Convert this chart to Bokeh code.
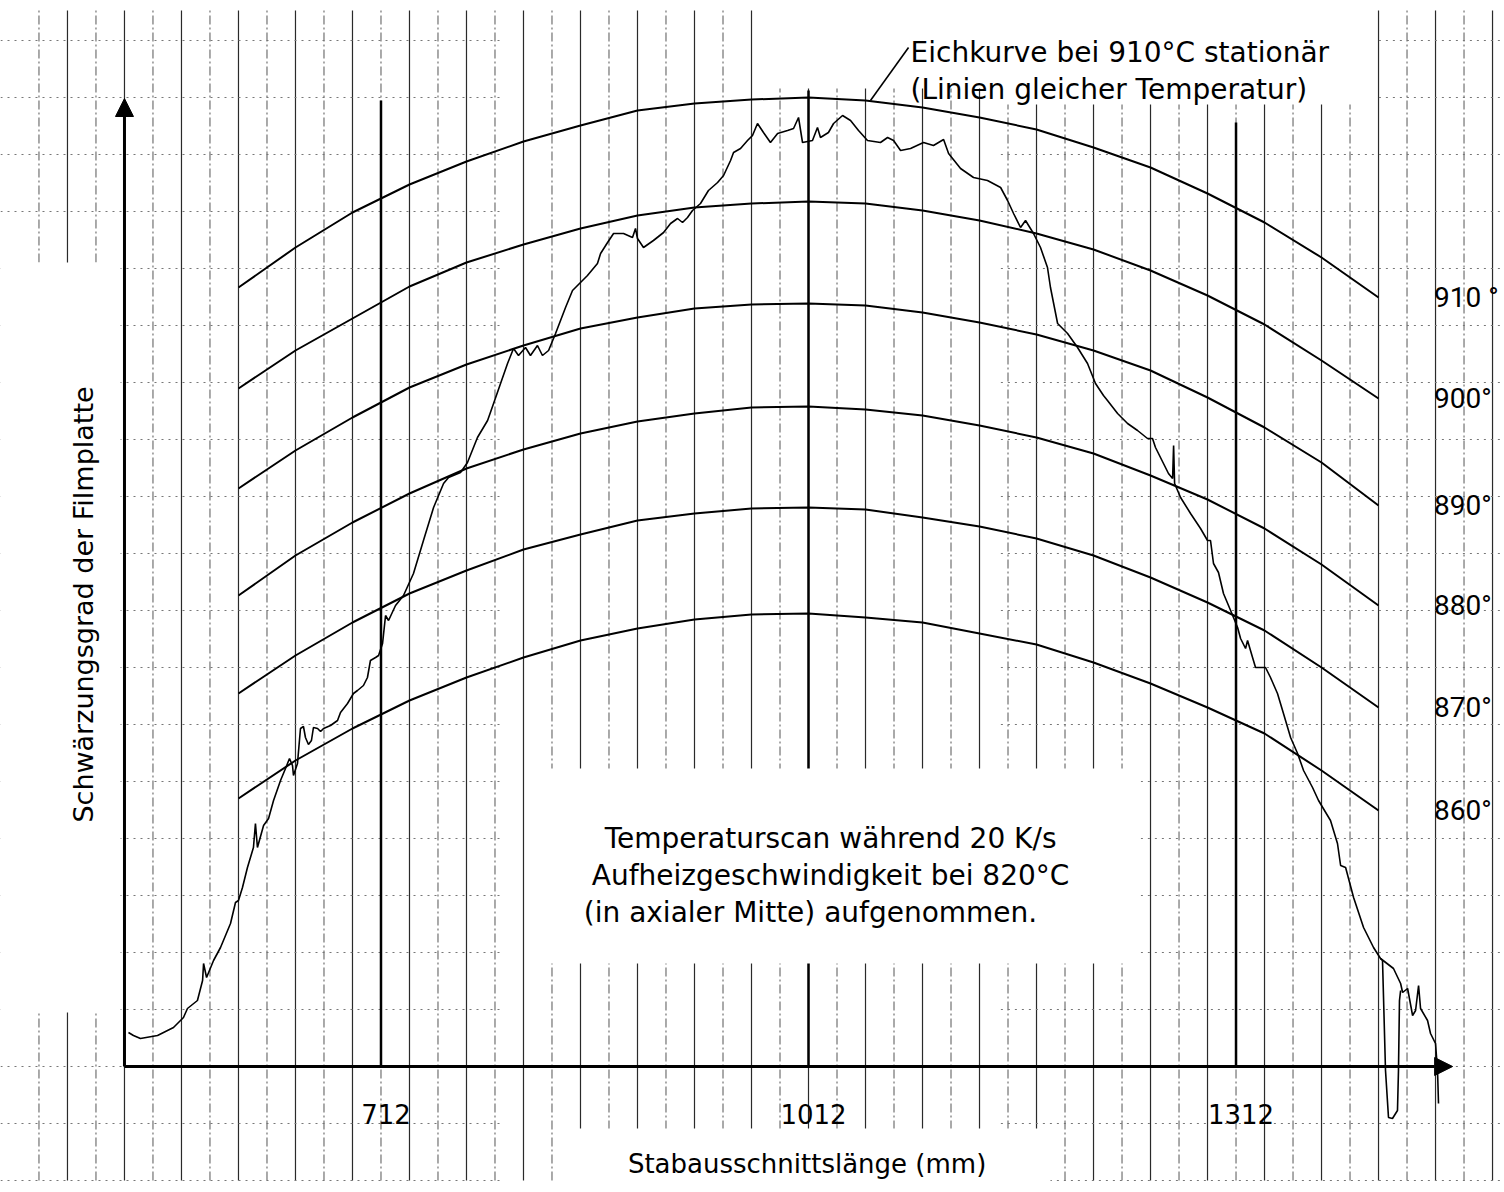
import numpy as np
from bokeh.plotting import figure
from bokeh.models import Range1d, Arrow, NormalHead
from bokeh.core.properties import value
from bokeh.embed import file_html
from bokeh.resources import INLINE

# ---------------- data ----------------
# Temperaturscan: Schwärzungsgrad (arb. units) vs. Stabausschnittslänge (mm)
scan_mm = [534.8, 538.3, 543.2, 555.2, 566.4, 573.4, 576.2, 583.2, 586.8, 587.5,
           589.6, 594.5, 599.4, 606.4, 609.9, 612.0, 614.8, 618.3, 622.5, 623.9,
           625.3, 629.6, 633.1, 636.6, 641.5, 645.0, 647.8, 649.9, 650.6, 653.4,
           655.5, 657.6, 659.0, 661.1, 663.2, 664.6, 667.5, 669.6, 671.7, 676.6,
           681.5, 683.6, 688.5, 692.7, 695.5, 699.7, 702.5, 704.6, 708.2, 710.3,
           713.1, 715.2, 717.3, 722.2, 727.8, 734.8, 741.8, 748.9, 755.9, 759.4,
           767.8, 772.7, 779.7, 786.8, 791.0, 795.9, 800.8, 805.0, 808.5, 813.4,
           816.9, 821.8, 825.3, 829.6, 834.5, 841.5, 846.4, 852.0, 856.9, 863.9,
           866.1, 871.0, 875.2, 882.2, 888.5, 890.6, 892.0, 896.2, 903.2, 910.3,
           915.2, 920.1, 923.6, 927.1, 930.6, 936.2, 941.8, 948.2, 952.4, 957.3,
           959.4, 964.3, 969.2, 972.7, 976.2, 980.4, 985.3, 990.3, 997.3, 1001.5,
           1005.0, 1007.8, 1014.8, 1018.3, 1020.4, 1026.0, 1029.6, 1035.9, 1041.5, 1047.1,
           1053.4, 1062.5, 1067.5, 1071.7, 1076.6, 1083.6, 1092.7, 1099.7, 1106.8, 1110.3,
           1118.7, 1127.8, 1137.6, 1146.8, 1151.7, 1155.9, 1160.8, 1164.3, 1169.9, 1174.8,
           1179.7, 1181.8, 1186.8, 1193.8, 1200.8, 1207.8, 1213.4, 1219.0, 1221.8, 1228.9,
           1235.9, 1242.9, 1249.9, 1253.4, 1255.5, 1261.1, 1264.6, 1267.5, 1268.2, 1268.9,
           1273.1, 1280.1, 1287.1, 1292.0, 1294.1, 1296.2, 1299.7, 1303.2, 1308.2, 1313.1,
           1315.2, 1318.7, 1320.1, 1323.6, 1325.7, 1332.7, 1336.2, 1341.1, 1345.3, 1350.3,
           1355.2, 1359.4, 1365.7, 1369.9, 1378.3, 1383.2, 1385.4, 1388.9, 1394.5, 1401.5,
           1408.5, 1413.4, 1422.5, 1427.5, 1428.9, 1432.4, 1435.9, 1438.0, 1440.1, 1441.5,
           1446.4, 1448.5, 1452.0, 1453.4, 1454.1]
scan_sw = [3.4, 3.1, 2.8, 3.1, 3.9, 4.9, 5.8, 6.6, 8.6, 10.3,
           8.9, 10.6, 11.9, 14.3, 16.4, 16.6, 17.9, 19.9, 21.9, 24.3,
           21.9, 24.1, 24.8, 26.6, 28.6, 29.8, 30.8, 30.1, 29.1, 30.3,
           33.8, 34.0, 32.9, 32.2, 32.6, 33.9, 33.8, 33.5, 33.8, 34.1,
           34.6, 35.4, 36.3, 37.3, 37.6, 38.1, 38.9, 40.6, 40.9, 41.1,
           42.3, 45.1, 44.6, 46.1, 47.1, 49.3, 52.6, 55.9, 58.3, 58.9,
           59.4, 60.4, 62.9, 64.6, 66.3, 68.3, 70.3, 71.8, 71.1, 71.9,
           71.1, 72.1, 71.1, 71.6, 73.3, 75.9, 77.6, 78.4, 79.1, 80.3,
           81.3, 82.4, 83.3, 83.3, 82.9, 83.8, 82.8, 81.9, 82.6, 83.4,
           84.3, 84.8, 84.4, 84.9, 85.6, 86.3, 87.6, 88.4, 89.1, 90.6,
           91.4, 91.8, 92.6, 93.1, 94.3, 93.4, 92.4, 93.3, 93.6, 93.8,
           94.9, 92.4, 92.6, 93.9, 92.9, 93.4, 94.3, 95.1, 94.6, 93.6,
           92.6, 92.4, 92.9, 92.6, 91.6, 91.8, 92.4, 92.1, 92.7, 91.3,
           89.8, 88.9, 88.6, 87.9, 86.6, 85.3, 83.9, 84.6, 83.3, 81.9,
           79.9, 77.9, 74.3, 73.3, 71.9, 70.3, 68.3, 67.1, 66.6, 65.3,
           64.3, 63.6, 62.8, 62.8, 61.9, 60.3, 59.3, 58.8, 62.1, 58.3,
           56.9, 55.3, 53.8, 52.6, 52.6, 50.3, 49.4, 47.3, 45.6, 43.9,
           42.8, 41.8, 42.6, 40.9, 39.9, 39.9, 38.9, 37.3, 35.3, 32.9,
           31.3, 29.6, 27.9, 26.6, 24.6, 22.3, 20.1, 19.9, 16.9, 13.9,
           11.9, 10.8, 9.8, 8.3, 7.4, 7.8, 5.1, 5.6, 8.1, 5.8,
           4.6, 3.3, 2.3, -0.4, -3.7]
# short downward excursion of the trace near the right end
dip_mm = [1413.4, 1414.8, 1416.9, 1419.0, 1421.8, 1425.3, 1426.0, 1426.7, 1427.5]
dip_sw = [10.8, 10.6, -0.4, -5.1, -5.2, -4.4, -0.4, 6.6, 7.6]

# Eichkurven bei 910 °C stationär (Linien gleicher Temperatur)
arc_mm = [612, 652, 692, 732, 772, 812, 852, 892, 932, 972, 1012,
          1052, 1092, 1132, 1172, 1212, 1252, 1292, 1332, 1372, 1412]
arc_910 = [77.9, 81.9, 85.4, 88.2, 90.5, 92.5, 94.1, 95.6, 96.3, 96.7, 96.9,
           96.6, 95.9, 94.9, 93.7, 91.9, 89.9, 87.3, 84.4, 80.9, 76.9]
arc_900 = [67.8, 71.6, 74.8, 78.0, 80.4, 82.2, 83.8, 85.1, 85.9, 86.3, 86.5,
           86.3, 85.6, 84.6, 83.3, 81.7, 79.6, 77.1, 74.2, 70.6, 66.8]
arc_890 = [57.8, 61.6, 64.9, 67.9, 70.2, 72.1, 73.8, 74.9, 75.8, 76.2, 76.3,
           76.1, 75.4, 74.4, 73.2, 71.6, 69.6, 66.9, 63.9, 60.4, 56.1]
arc_880 = [47.1, 51.1, 54.4, 57.3, 59.8, 61.7, 63.3, 64.5, 65.3, 65.9, 66.0,
           65.7, 65.1, 64.1, 62.9, 61.3, 59.1, 56.7, 53.8, 50.2, 46.1]
arc_870 = [37.3, 41.1, 44.4, 47.3, 49.6, 51.7, 53.2, 54.6, 55.3, 55.8, 55.9,
           55.7, 54.9, 54.0, 52.8, 51.1, 48.9, 46.4, 43.6, 39.9, 35.9]
arc_860 = [26.8, 30.6, 33.8, 36.6, 38.9, 40.9, 42.6, 43.8, 44.7, 45.2, 45.3,
           44.9, 44.4, 43.3, 42.2, 40.4, 38.3, 35.9, 33.3, 29.6, 25.6]
arcs = [arc_910, arc_900, arc_890, arc_880, arc_870, arc_860]
iso_labels = ["910 °", "900°", "890°", "880°", "870°", "860°"]

tick_values = [712, 1012, 1312]
tick_labels = ["712", "1012", "1312"]
tick_line_tops = [96.6, 97.6, 94.4]

# ---------------- figure ----------------
p = figure(width=1504, height=1192,
           x_range=Range1d(445.0, 1500.4), y_range=Range1d(-12.6, 106.6),
           x_axis_location=None, y_axis_location=None,
           toolbar_location=None, output_backend="svg",
           min_border=0, outline_line_color=None,
           background_fill_color="white", border_fill_color="white")
p.xgrid.visible = False
p.ygrid.visible = False

ORIGIN_X = 532
X_END = 1464
Y_END = 96.8
GRID_TOP = 105.6
GRID_BOT = -11.4

# grid paper: vertical lines every 20 mm (solid every 40 mm)
gx = np.arange(472, 1500, 20)
solid = gx[(gx - 1012) % 40 == 0]
dashed = gx[(gx - 1012) % 40 != 0]
p.segment(x0=solid, x1=solid, y0=[GRID_BOT] * len(solid), y1=[GRID_TOP] * len(solid),
          line_color="#2a2a2a", line_width=1.2)
p.segment(x0=dashed, x1=dashed, y0=[GRID_BOT] * len(dashed), y1=[GRID_TOP] * len(dashed),
          line_color="#555555", line_width=1.0, line_dash="9 3 2 3")

# dotted horizontal lines
gy = np.arange(-2, 19) * 5.7
for xa, xb in [(445.0, 796.0), (1147.0, 1500.4)]:
    p.segment(x0=[xa] * len(gy), x1=[xb] * len(gy), y0=gy, y1=gy,
              line_color="#777777", line_width=1.0, line_dash="2 5")

# emphasised vertical lines at the labelled positions
p.segment(x0=tick_values, x1=tick_values, y0=[0] * 3, y1=tick_line_tops,
          line_color="black", line_width=2.5)

# blank areas of the drawing sheet (text fields)
p.quad(left=[976.2, 1146.8, 445.0, 820.4, 841.5],
       right=[1146.8, 1409.9, 529.2, 1245.0, 1181.8],
       bottom=[97.8, 96.2, 5.4, 10.3, -12.6],
       top=[106.6, 106.6, 80.4, 29.8, -6.2],
       fill_color="white", line_color=None)

# calibration curves
for arc in arcs:
    p.line(arc_mm, arc, line_color="black", line_width=2.0)

# measured scan
p.line(scan_mm, scan_sw, line_color="black", line_width=1.6)
p.line(dip_mm, dip_sw, line_color="black", line_width=1.6)

# axes with arrow heads
p.add_layout(Arrow(end=NormalHead(size=18, fill_color="black", line_color="black"),
                   x_start=ORIGIN_X, y_start=0, x_end=X_END, y_end=0,
                   line_width=3, line_color="black"))
p.add_layout(Arrow(end=NormalHead(size=18, fill_color="black", line_color="black"),
                   x_start=ORIGIN_X, y_start=0, x_end=ORIGIN_X, y_end=Y_END,
                   line_width=3, line_color="black"))

FONT = value("DejaVu Sans")

# tick labels
p.text(x=tick_values, y=[-4.7] * 3, text=tick_labels, x_offset=5,
       text_align="center", text_baseline="middle",
       text_font=FONT, text_font_size=value("26px"), text_color="black")

# isotherm labels on the right
p.text(x=[1451.0] * 6, y=[a[-1] for a in arcs], text=iso_labels,
       text_align="left", text_baseline="middle",
       text_font=value("Roboto"), text_font_size=value("28px"), text_color="black")

# axis titles
p.text(x=[1011.0], y=[-9.7], text=["Stabausschnittslänge (mm)"],
       text_align="center", text_baseline="middle",
       text_font=FONT, text_font_size=value("26px"), text_color="black")
p.text(x=[503.2], y=[46.2], text=["Schwärzungsgrad der Filmplatte"], angle=np.pi / 2,
       text_align="center", text_baseline="alphabetic",
       text_font=FONT, text_font_size=value("27px"), text_color="black")

# annotation for the calibration curves
p.segment(x0=[1055.5], y0=[96.6], x1=[1082.2], y1=[101.9],
          line_color="black", line_width=1.6)
p.text(x=[1083.6, 1083.6], y=[101.4, 97.7],
       text=["Eichkurve bei 910°C stationär", "(Linien gleicher Temperatur)"],
       text_align="left", text_baseline="alphabetic",
       text_font=FONT, text_font_size=value("28px"), text_color="black")

# annotation for the scan
p.text(x=[1027.5, 1027.5, 1013.4], y=[22.8, 19.1, 15.4],
       text=["Temperaturscan während 20 K/s",
             "Aufheizgeschwindigkeit bei 820°C",
             "(in axialer Mitte) aufgenommen."],
       text_align="center", text_baseline="alphabetic",
       text_font=FONT, text_font_size=value("28px"), text_color="black")

open("out.html", "w").write(file_html(p, INLINE))
